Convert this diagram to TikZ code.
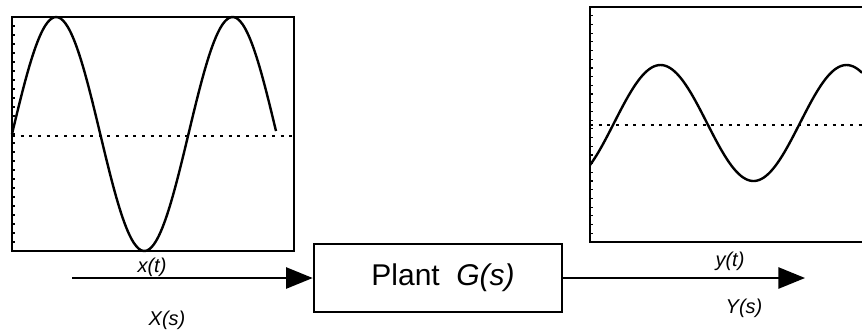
\documentclass[tikz,border=0pt]{standalone}
\usepackage{fontspec}
\setmainfont{Liberation Sans}
\usetikzlibrary{arrows.meta}
\tikzset{
  frame/.style={line width=2.2pt, line join=miter},
  wave/.style={line width=1.8pt, line join=round},
  zeroline/.style={line width=1.7pt, dash pattern=on 2.2pt off 4.3pt},
  tickmark/.style={line width=0.9pt},
  plantbox/.style={draw, line width=2pt, minimum width=186pt, minimum height=51pt, inner sep=0pt, font=\fontsize{22.5}{27}\selectfont},
  signal/.style={line width=1.2pt, -{Triangle[length=20pt,width=16pt]}},
  sig/.style={font=\fontsize{15}{18}\selectfont\itshape, inner sep=0pt}
}
\begin{document}
\begin{tikzpicture}[x=0.75pt, y=-0.75pt]
\useasboundingbox (0,0) rectangle (862,333);
% left graph
\draw[frame] (12,17) rectangle (294,251);
\foreach \t in {0,...,26} \draw[tickmark] (12,{17+9*\t}) -- (15,{17+9*\t});
\draw[zeroline] (12,136) -- (294,136);
\draw[wave] plot[domain=12:276, samples=120, smooth] (\x, {134-117*sin(2.04*(\x-12))});
% right graph
\draw[frame] (862,7) -- (590,7) -- (590,242) -- (862,242);
\foreach \t in {0,...,27} \draw[tickmark] (590,{7+8.7*\t}) -- (593,{7+8.7*\t});
\draw[zeroline] (590,125) -- (862,125);
\draw[wave] plot[domain=590:862, samples=120, smooth] (\x, {123-58*sin(1.9355*(\x-614))});
% block and signals
\node[plantbox] (plant) at (438,278) {\hspace*{7.5pt}Plant\hspace{0.55em}\textit{G(s)}};
\coordinate (xin) at (72,278);
\coordinate (yout) at (805,278);
\draw[signal] (xin) -- (plant.west);
\draw[signal] (plant.east) -- (yout);
\node[sig] (xt) at (152,267) {x(t)};
\node[sig] (Xs) at (167,320) {X(s)};
\node[sig] (yt) at (730,261) {y(t)};
\node[sig] (Ys) at (744,308) {Y(s)};
\end{tikzpicture}
\end{document}
